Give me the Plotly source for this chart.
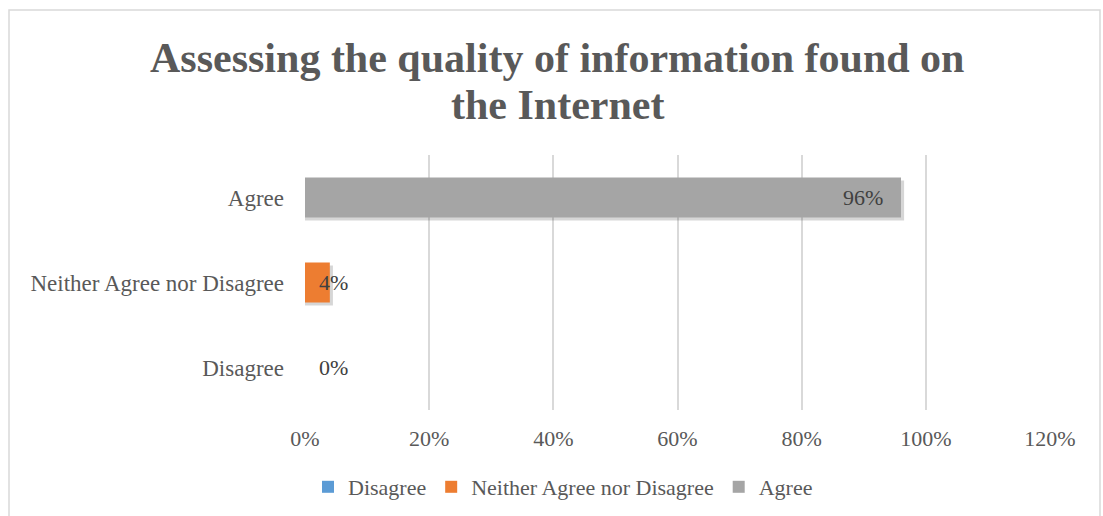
import plotly.graph_objects as go

# Survey responses
categories = ["Disagree", "Neither Agree nor Disagree", "Agree"]
shares = [0.0, 0.04, 0.96]
colors = ["#5B9BD5", "#ED7D31", "#A5A5A5"]
x_ticks = [0, 0.2, 0.4, 0.6, 0.8, 1.0, 1.2]
x_tick_labels = ["0%", "20%", "40%", "60%", "80%", "100%", "120%"]
title_lines = ["Assessing the quality of information found on", "the Internet"]

FONT = "Liberation Serif, Times New Roman, serif"
GREY = "#595959"

W, H = 1103, 516
L, R, T, B = 305, 53, 155, 106
pw = W - L - R
ph = H - T - B
BAR_W = 0.47

fig = go.Figure()

# soft drop shadows under the bars
for cat, val in zip(categories, shares):
    if val > 0:
        fig.add_trace(go.Bar(
            y=[cat], x=[val + 0.005], orientation="h", showlegend=False,
            hoverinfo="skip", width=BAR_W, offset=-BAR_W / 2 - 0.035,
            marker=dict(color="rgba(0,0,0,0.16)", line=dict(width=0)),
        ))

for cat, val, col in zip(categories, shares, colors):
    fig.add_trace(go.Bar(
        y=[cat], x=[val], orientation="h", name=cat,
        marker=dict(color=col, line=dict(width=0)),
        width=BAR_W,
    ))

# Value labels
annotations = []
for cat, val in zip(categories, shares):
    txt = f"{val*100:.0f}%"
    if val > 0.5:
        annotations.append(dict(x=val, y=cat, xref="x", yref="y", text=txt,
                                xanchor="right", xshift=-16, showarrow=False,
                                font=dict(family=FONT, size=22, color="#404040")))
    else:
        annotations.append(dict(x=0, y=cat, xref="x", yref="y", text=txt,
                                xanchor="left", xshift=12, showarrow=False,
                                font=dict(family=FONT, size=22, color="#404040")))

# Two-line chart title
for line, yc in zip(title_lines, [58, 105]):
    annotations.append(dict(x=(557 - L) / pw, y=(H - B - yc) / ph, xref="paper", yref="paper",
                            text=f"<b>{line}</b>", showarrow=False,
                            xanchor="center", yanchor="middle",
                            font=dict(family=FONT, size=42, color=GREY)))

fig.update_layout(
    width=W, height=H,
    margin=dict(l=L, r=R, t=T, b=B),
    paper_bgcolor="white", plot_bgcolor="white",
    barmode="overlay",
    xaxis=dict(range=[0, 1.2], tickvals=x_ticks, ticktext=x_tick_labels,
               showgrid=True, gridcolor="#D9D9D9", gridwidth=1.5,
               zeroline=False, showline=False, ticks="",
               ticklabelstandoff=13,
               tickfont=dict(family=FONT, size=22, color=GREY)),
    yaxis=dict(categoryorder="array", categoryarray=categories,
               showgrid=False, zeroline=False, showline=False, ticks="",
               ticklabelstandoff=20,
               tickfont=dict(family=FONT, size=23, color=GREY)),
    legend=dict(orientation="h", x=563 / W, xref="container", xanchor="center",
                y=1 - 487 / H, yref="container", yanchor="middle",
                font=dict(family=FONT, size=22, color=GREY),
                itemwidth=30, traceorder="normal"),
    annotations=annotations,
    shapes=[dict(type="rect", xref="paper", yref="paper",
                 x0=(9 - L) / pw, x1=(1100 - L) / pw,
                 y0=(H - B - (H + 10)) / ph, y1=(H - B - 10) / ph,
                 line=dict(color="#D9D9D9", width=1.5), fillcolor="rgba(0,0,0,0)",
                 layer="below")],
)
fig.write_html("out.html")
